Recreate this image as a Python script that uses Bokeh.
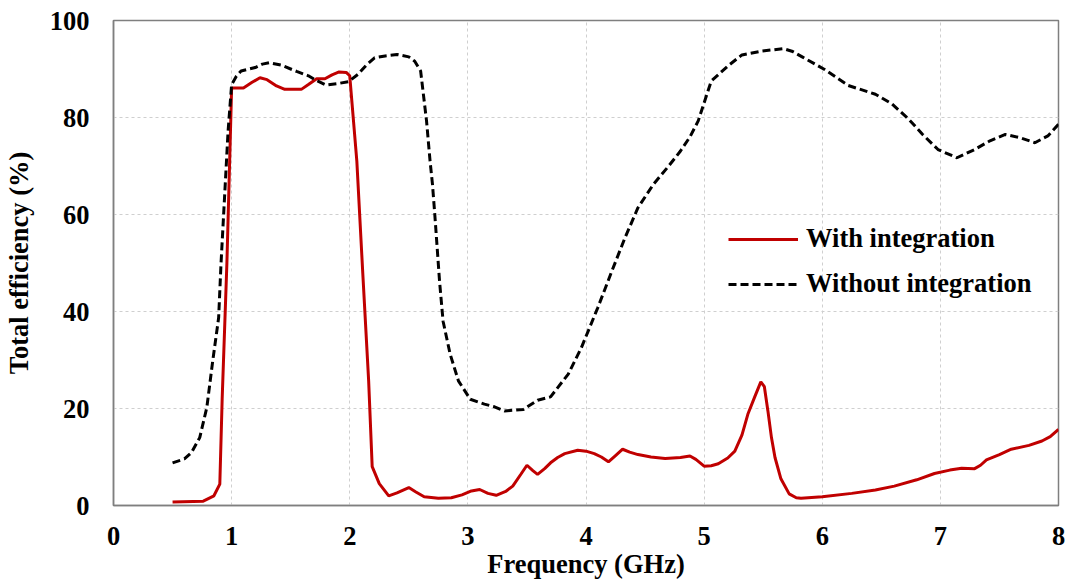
from bokeh.plotting import figure
from bokeh.models import Range1d, FixedTicker, Legend, LegendItem
from bokeh.embed import file_html
from bokeh.resources import INLINE

# ---- data ----
freq_with = [0.5, 0.76, 0.85, 0.9, 0.92, 0.96, 0.99, 1.0, 1.1, 1.17, 1.24, 1.3, 1.38, 1.45,
             1.59, 1.65, 1.72, 1.79, 1.85, 1.91, 1.97, 2.0, 2.06, 2.11, 2.16, 2.19, 2.25,
             2.33, 2.4, 2.5, 2.56, 2.63, 2.75, 2.86, 2.95, 3.03, 3.1, 3.17, 3.24, 3.32,
             3.38, 3.45, 3.5, 3.55, 3.59, 3.65, 3.7, 3.76, 3.82, 3.93, 4.0, 4.07, 4.13,
             4.19, 4.25, 4.31, 4.37, 4.44, 4.55, 4.67, 4.8, 4.88, 4.93, 5.0, 5.06, 5.12,
             5.2, 5.26, 5.32, 5.37, 5.43, 5.48, 5.51, 5.54, 5.57, 5.6, 5.65, 5.72, 5.78,
             5.82, 6.0, 6.25, 6.45, 6.61, 6.8, 6.95, 7.08, 7.18, 7.29, 7.34, 7.39, 7.5,
             7.6, 7.75, 7.86, 7.93, 8.0]
eff_with = [0.7, 0.9, 2.0, 4.4, 22.0, 50.0, 77.0, 86.1, 86.1, 87.2, 88.2, 87.8, 86.5, 85.8,
            85.8, 86.8, 88.0, 88.0, 88.8, 89.4, 89.3, 88.6, 71.0, 48.0, 25.7, 8.0, 4.5,
            2.0, 2.6, 3.7, 2.8, 1.8, 1.5, 1.6, 2.2, 3.0, 3.3, 2.5, 2.1, 2.9,
            4.0, 6.5, 8.3, 7.2, 6.4, 7.6, 8.8, 9.9, 10.7, 11.4, 11.2, 10.7, 10.0,
            9.0, 10.3, 11.6, 11.0, 10.5, 10.0, 9.7, 9.9, 10.2, 9.5, 8.1, 8.2, 8.6,
            9.8, 11.2, 14.5, 18.8, 22.5, 25.5, 24.5, 19.5, 14.0, 9.9, 5.5, 2.4, 1.6,
            1.5, 1.8, 2.5, 3.2, 4.0, 5.3, 6.6, 7.3, 7.7, 7.6, 8.3, 9.4, 10.5,
            11.6, 12.4, 13.3, 14.2, 15.7]

freq_without = [0.5, 0.6, 0.66, 0.73, 0.79, 0.84, 0.89, 0.91, 0.94, 0.97, 1.0, 1.04, 1.08,
                1.2, 1.26, 1.32, 1.42, 1.55, 1.65, 1.72, 1.8, 1.9, 1.99, 2.07, 2.14, 2.21,
                2.3, 2.4, 2.5, 2.55, 2.6, 2.65, 2.68, 2.7, 2.72, 2.76, 2.79, 2.85, 2.92,
                3.02, 3.14, 3.22, 3.31, 3.47, 3.59, 3.7, 3.85, 3.96, 4.1, 4.22, 4.33, 4.44,
                4.57, 4.7, 4.8, 4.88, 4.95, 5.06, 5.2, 5.32, 5.49, 5.67, 5.75, 5.83, 6.02,
                6.22, 6.45, 6.59, 6.73, 6.85, 6.98, 7.14, 7.29, 7.42, 7.55, 7.68, 7.8,
                7.91, 8.0]
eff_without = [8.8, 9.6, 10.9, 14.0, 20.2, 29.8, 38.7, 49.8, 63.5, 77.2, 86.8, 88.5, 89.6,
               90.3, 91.0, 91.3, 90.8, 89.5, 88.6, 87.6, 86.7, 87.0, 87.4, 88.9, 90.8, 92.3,
               92.7, 93.0, 92.5, 91.6, 89.6, 79.3, 71.0, 66.3, 60.0, 46.3, 38.0, 31.2, 25.7,
               21.9, 20.9, 20.4, 19.5, 19.8, 21.7, 22.4, 27.1, 32.5, 40.8, 48.4, 55.2, 61.4,
               66.2, 70.0, 73.1, 76.0, 79.3, 87.5, 90.6, 92.9, 93.7, 94.2, 93.6, 92.5, 89.9,
               86.6, 84.8, 82.8, 79.7, 76.5, 73.4, 71.7, 73.4, 75.2, 76.5, 75.8, 74.8,
               76.2, 78.6]

x_ticks = [0, 1, 2, 3, 4, 5, 6, 7, 8]
y_ticks = [0, 20, 40, 60, 80, 100]
series_names = ["With integration", "Without integration"]

FONT = "Liberation Serif"
FS = "26.5px"

p = figure(width=1065, height=580, frame_width=945, frame_height=485,
           min_border_left=112, min_border_right=8, min_border_top=20, min_border_bottom=75,
           x_range=Range1d(0, 8), y_range=Range1d(0, 100),
           output_backend="svg", toolbar_location=None)

p.outline_line_color = "#7f7f7f"
p.outline_line_width = 1.5
p.background_fill_color = "white"
p.border_fill_color = "white"

for ax in (p.xaxis[0], p.yaxis[0]):
    ax.axis_line_color = "#7f7f7f"
    ax.axis_line_width = 1.5
    ax.major_tick_line_color = None
    ax.minor_tick_line_color = None
    ax.major_tick_out = 0
    ax.major_tick_in = 0
    ax.major_label_text_font = FONT
    ax.major_label_text_font_style = "bold"
    ax.major_label_text_font_size = FS
    ax.major_label_text_color = "black"
    ax.axis_label_text_font = FONT
    ax.axis_label_text_font_style = "bold"
    ax.axis_label_text_font_size = FS
    ax.axis_label_text_color = "black"

p.xaxis[0].ticker = FixedTicker(ticks=x_ticks)
p.yaxis[0].ticker = FixedTicker(ticks=y_ticks)
p.xaxis[0].major_label_standoff = 21
p.yaxis[0].major_label_standoff = 24
p.xaxis[0].axis_label = "Frequency (GHz)"
p.yaxis[0].axis_label = "Total efficiency (%)"
p.xaxis[0].axis_label_standoff = 1
p.yaxis[0].axis_label_standoff = 13

for g in (p.xgrid[0], p.ygrid[0]):
    g.grid_line_color = "#cfcfcf"
    g.grid_line_dash = "3 3"
    g.grid_line_width = 1

r1 = p.line(freq_with, eff_with, line_color="#c00000", line_width=3)
r2 = p.line(freq_without, eff_without, line_color="black", line_width=3, line_dash="8 4")

legend = Legend(items=[LegendItem(label=series_names[0], renderers=[r1]),
                       LegendItem(label=series_names[1], renderers=[r2])],
                location=(615, 206))
legend.border_line_color = None
legend.background_fill_alpha = 0
legend.padding = 0
legend.margin = 0
legend.spacing = 14
legend.glyph_width = 70
legend.glyph_height = 26
legend.label_height = 26
legend.label_standoff = 8
legend.label_text_font = FONT
legend.label_text_font_style = "bold"
legend.label_text_font_size = FS
legend.label_text_color = "black"
p.add_layout(legend)

open("out.html", "w").write(file_html(p, INLINE))
